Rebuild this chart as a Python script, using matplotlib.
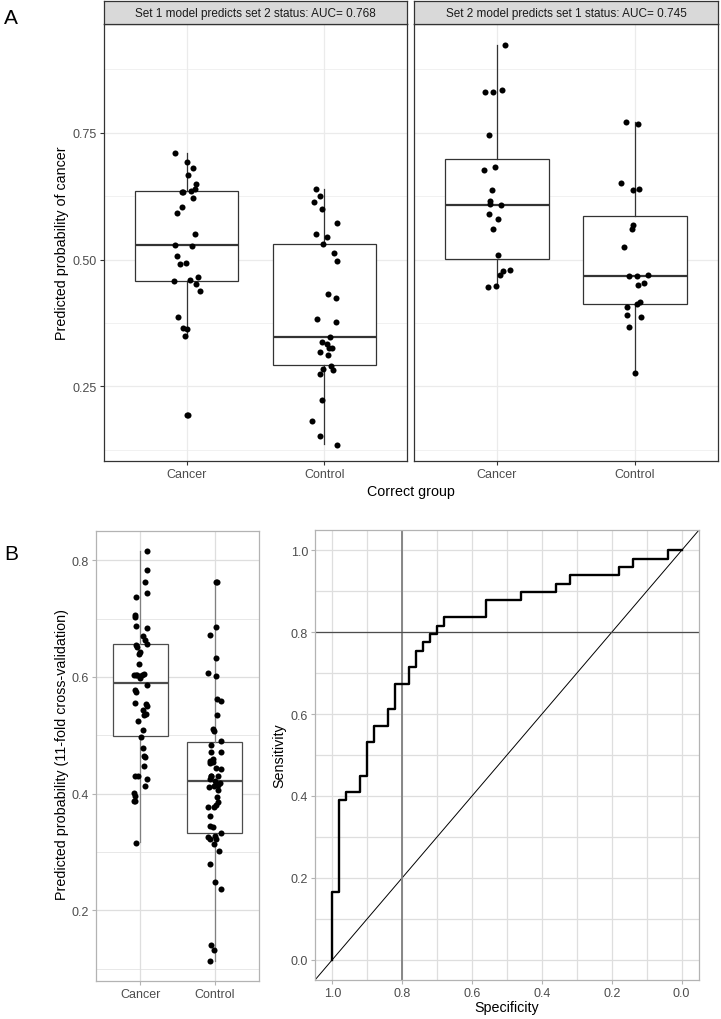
import numpy as np
import matplotlib.pyplot as plt

plt.rcParams['font.family'] = ['Liberation Sans', 'DejaVu Sans']

# ---------------- Panel A data ----------------
groups = ['Cancer', 'Control']
strip_titles = ['Set 1 model predicts set 2 status: AUC= 0.768',
                'Set 2 model predicts set 1 status: AUC= 0.745']

a1_cancer = [0.710, 0.692, 0.681, 0.667, 0.649, 0.633, 0.633, 0.634, 0.639, 0.621,
             0.603, 0.591, 0.550, 0.528, 0.526, 0.506, 0.491, 0.493, 0.457, 0.460,
             0.465, 0.452, 0.437, 0.386, 0.366, 0.363, 0.350, 0.193, 0.193]
a1_cancer_jit = [-0.087, 0.0, 0.048, 0.012, 0.07, -0.036, -0.024, 0.034, 0.06, 0.048,
                 -0.036, -0.068, 0.06, -0.082, 0.041, -0.07, -0.051, -0.007, -0.092, 0.027,
                 0.085, 0.07, 0.10, -0.065, -0.029, 0.0, -0.015, 0.0, 0.012]
a1_control = [0.638, 0.626, 0.613, 0.599, 0.572, 0.551, 0.544, 0.531, 0.513, 0.498,
              0.433, 0.424, 0.383, 0.377, 0.348, 0.337, 0.333, 0.325, 0.325, 0.317,
              0.311, 0.291, 0.284, 0.282, 0.274, 0.224, 0.181, 0.152, 0.135]
a1_control_jit = [-0.063, -0.031, -0.073, -0.019, 0.09, -0.063, 0.017, -0.01, 0.073, 0.094,
                  0.029, 0.087, -0.053, 0.082, 0.044, -0.019, 0.017, 0.036, 0.058, -0.034,
                  0.024, 0.051, -0.007, 0.065, -0.034, -0.019, -0.089, -0.034, 0.094]
a2_cancer = [0.923, 0.830, 0.830, 0.834, 0.745, 0.677, 0.683, 0.636, 0.615, 0.609,
             0.607, 0.589, 0.579, 0.560, 0.508, 0.477, 0.479, 0.470, 0.446, 0.448]
a2_cancer_jit = [0.058, -0.089, -0.031, 0.039, -0.056, -0.092, -0.012, -0.039, -0.051, -0.053,
                 0.031, -0.056, 0.01, -0.031, 0.01, 0.044, 0.094, 0.019, -0.063, -0.005]
a2_control = [0.771, 0.766, 0.651, 0.636, 0.638, 0.568, 0.560, 0.524, 0.467, 0.467,
              0.469, 0.450, 0.454, 0.413, 0.416, 0.406, 0.391, 0.386, 0.367, 0.276]
a2_control_jit = [-0.063, 0.019, -0.099, -0.015, 0.027, -0.015, -0.022, -0.077, -0.044, 0.012,
                  0.092, 0.019, 0.065, 0.012, 0.034, -0.058, -0.058, 0.044, -0.041, 0.0]

# box stats: whislo, q1, med, q3, whishi
a1_box = [[0.349, 0.458, 0.528, 0.635, 0.710], [0.136, 0.292, 0.348, 0.531, 0.638]]
a2_box = [[0.449, 0.501, 0.608, 0.698, 0.923], [0.276, 0.412, 0.468, 0.585, 0.770]]

# ---------------- Panel B data ----------------
b_cancer = [0.816, 0.783, 0.762, 0.744, 0.737, 0.706, 0.703, 0.687, 0.684, 0.670,
            0.664, 0.656, 0.655, 0.651, 0.642, 0.640, 0.622, 0.603, 0.603, 0.603,
            0.605, 0.603, 0.598, 0.587, 0.578, 0.575, 0.555, 0.553, 0.551, 0.543,
            0.536, 0.535, 0.525, 0.509, 0.497, 0.479, 0.465, 0.463, 0.447, 0.431,
            0.431, 0.425, 0.413, 0.401, 0.396, 0.388, 0.387, 0.316]
b_cancer_jit = [0.091, 0.082, 0.068, 0.091, -0.059, -0.068, -0.077, -0.055, 0.091, 0.032,
                0.059, 0.091, -0.059, -0.045, 0.0, -0.023, -0.023, -0.091, -0.045, 0.023,
                0.045, -0.059, 0.0, 0.091, -0.077, -0.059, -0.068, 0.077, 0.091, 0.032,
                0.077, 0.045, -0.032, 0.032, 0.014, 0.032, 0.045, 0.055, 0.045, -0.068,
                -0.036, 0.091, 0.055, -0.091, -0.077, -0.068, -0.091, -0.059]
b_control = [0.763, 0.763, 0.686, 0.672, 0.632, 0.607, 0.601, 0.562, 0.558, 0.534,
             0.511, 0.507, 0.490, 0.483, 0.471, 0.471, 0.460, 0.456, 0.453, 0.455,
             0.444, 0.443, 0.431, 0.431, 0.430, 0.425, 0.422, 0.419, 0.412, 0.413,
             0.414, 0.406, 0.395, 0.386, 0.377, 0.377, 0.380, 0.362, 0.344, 0.343,
             0.332, 0.326, 0.323, 0.328, 0.323, 0.314, 0.301, 0.280, 0.249, 0.237,
             0.141, 0.132, 0.114]
b_control_jit = [0.023, 0.036, 0.014, -0.064, 0.014, -0.091, 0.014, 0.036, 0.091, 0.036,
                 -0.023, -0.014, 0.091, -0.045, -0.045, 0.091, -0.023, -0.055, -0.068, -0.023,
                 0.023, 0.091, -0.045, 0.045, -0.045, -0.055, 0.0, 0.068, -0.077, -0.014,
                 0.045, 0.045, 0.036, 0.045, -0.091, -0.014, 0.023, -0.055, -0.068, -0.023,
                 0.091, -0.091, -0.055, 0.0, 0.023, -0.014, 0.059, -0.055, 0.0, 0.091,
                 -0.045, -0.014, -0.068]
b_box = [[0.317, 0.499, 0.589, 0.656, 0.816], [0.113, 0.332, 0.421, 0.488, 0.762]]

# ROC curve (specificity, sensitivity)
roc_spec = [1.0, 1.0, 0.98, 0.96, 0.92, 0.90, 0.88, 0.84, 0.82, 0.78, 0.76, 0.74,
            0.72, 0.70, 0.68, 0.56, 0.46, 0.36, 0.32, 0.18, 0.14, 0.04, 0.0]
roc_sens = [0.0, 0.164, 0.389, 0.410, 0.449, 0.531, 0.571, 0.612, 0.673, 0.714, 0.755, 0.776,
            0.796, 0.816, 0.837, 0.878, 0.898, 0.918, 0.939, 0.959, 0.980, 1.0, 1.0]
cutoff_spec = 0.8
cutoff_sens = 0.8

# ---------------- Figure ----------------
W, H = 721, 1020
fig = plt.figure(figsize=(W / 100, H / 100), dpi=100)


def px_axes(x0, y0, x1, y1):
    return fig.add_axes([x0 / W, 1 - y1 / H, (x1 - x0) / W, (y1 - y0) / H])


def style_axes(ax, border, grid, tickc):
    for s in ax.spines.values():
        s.set_color(border)
        s.set_linewidth(0.9)
    ax.grid(True, which='major', color=grid, linewidth=0.9)
    ax.grid(True, which='minor', color=grid, linewidth=0.5)
    ax.set_axisbelow(True)
    ax.tick_params(which='major', length=3, width=0.8, color=tickc, labelcolor='#4D4D4D',
                   labelsize=9, pad=2)
    ax.tick_params(which='minor', length=0)


def draw_box(ax, pos, st, vals, jit, edge, whisk):
    stats = [dict(whislo=st[0], q1=st[1], med=st[2], q3=st[3], whishi=st[4])]
    ax.bxp(stats, positions=[pos], widths=0.75, showfliers=False, showcaps=False,
           patch_artist=True,
           boxprops=dict(facecolor='white', edgecolor=edge, linewidth=0.9),
           medianprops=dict(color=edge, linewidth=1.6),
           whiskerprops=dict(color=whisk, linewidth=0.9))
    ax.scatter(pos + np.array(jit), vals, s=19, color='black', linewidths=0, zorder=3)


# ----- Panel A -----
a_ylim = (0.103, 0.964)
a_sets = [(a1_box, a1_cancer, a1_cancer_jit, a1_control, a1_control_jit),
          (a2_box, a2_cancer, a2_cancer_jit, a2_control, a2_control_jit)]
a_xs = [(104, 407), (414, 718)]
for i, ((x0, x1), (bx, cv, cj, kv, kj)) in enumerate(zip(a_xs, a_sets)):
    ax = px_axes(x0, 25, x1, 462)
    style_axes(ax, '#333333', '#EBEBEB', '#333333')
    draw_box(ax, 1, bx[0], cv, cj, '#333333', '#333333')
    draw_box(ax, 2, bx[1], kv, kj, '#333333', '#333333')
    ax.set_xlim(0.4, 2.6)
    ax.set_ylim(*a_ylim)
    ax.set_xticks([1, 2])
    ax.set_xticklabels(groups)
    ax.set_yticks([0.25, 0.50, 0.75])
    ax.set_yticks([0.125, 0.375, 0.625, 0.875], minor=True)
    if i == 0:
        ax.set_yticklabels(['0.25', '0.50', '0.75'])
    else:
        ax.tick_params(axis='y', which='both', left=False, labelleft=False)
    st = px_axes(x0, 2, x1, 25)
    st.set_facecolor('#D9D9D9')
    st.set_xticks([])
    st.set_yticks([])
    for s in st.spines.values():
        s.set_color('#333333')
        s.set_linewidth(0.9)
    st.text(0.5, 0.5, strip_titles[i], ha='center', va='center', fontsize=8.5,
            color='#1A1A1A', transform=st.transAxes)

fig.text(411 / W, 1 - 492 / H, 'Correct group', ha='center', va='center', fontsize=10.3)
fig.text(62 / W, 1 - 243 / H, 'Predicted probability of cancer', ha='center', va='center',
         rotation=90, fontsize=10.3)
fig.text(4 / W, 1 - 18 / H, 'A', ha='left', va='center', fontsize=15)

# ----- Panel B left -----
ax = px_axes(96, 532, 259, 982)
style_axes(ax, '#B3B3B3', '#DEDEDE', '#B3B3B3')
draw_box(ax, 1, b_box[0], b_cancer, b_cancer_jit, '#4D4D4D', '#808080')
draw_box(ax, 2, b_box[1], b_control, b_control_jit, '#4D4D4D', '#808080')
ax.set_xlim(0.4, 2.6)
ax.set_ylim(0.079, 0.85)
ax.set_xticks([1, 2])
ax.set_xticklabels(groups)
ax.set_yticks([0.2, 0.4, 0.6, 0.8])
ax.set_yticklabels(['0.2', '0.4', '0.6', '0.8'])
ax.set_yticks([0.1, 0.3, 0.5, 0.7], minor=True)
fig.text(62 / W, 1 - 755 / H, 'Predicted probability (11-fold cross-validation)',
         ha='center', va='center', rotation=90, fontsize=10.3)
fig.text(4 / W, 1 - 555 / H, 'B', ha='left', va='center', fontsize=15)

# ----- ROC -----
ax = px_axes(315, 531, 699, 981)
style_axes(ax, '#B3B3B3', '#DEDEDE', '#B3B3B3')
ax.grid(True, which='minor', color='#DEDEDE', linewidth=0.9)
ax.set_xlim(1.05, -0.05)
ax.set_ylim(-0.05, 1.05)
ticks = [0.0, 0.2, 0.4, 0.6, 0.8, 1.0]
ax.set_xticks(ticks)
ax.set_yticks(ticks)
ax.set_xticklabels([f'{t:.1f}' for t in ticks])
ax.set_yticklabels([f'{t:.1f}' for t in ticks])
ax.set_xticks([0.1, 0.3, 0.5, 0.7, 0.9], minor=True)
ax.set_yticks([0.1, 0.3, 0.5, 0.7, 0.9], minor=True)
diag = np.array([-0.1, 1.1])
ax.plot(diag, 1 - diag, color='black', linewidth=0.7, zorder=2)
ax.axvline(cutoff_spec, color='#7F7F7F', linewidth=1.3, zorder=2)
ax.axhline(cutoff_sens, color='#4D4D4D', linewidth=0.9, zorder=2)
ax.step(roc_spec, roc_sens, where='post', color='black', linewidth=1.7, zorder=3)
ax.set_xlabel('Specificity', fontsize=10.3, labelpad=1)
ax.set_ylabel('Sensitivity', fontsize=10.3, labelpad=3)

fig.savefig('out.png', dpi=100)
